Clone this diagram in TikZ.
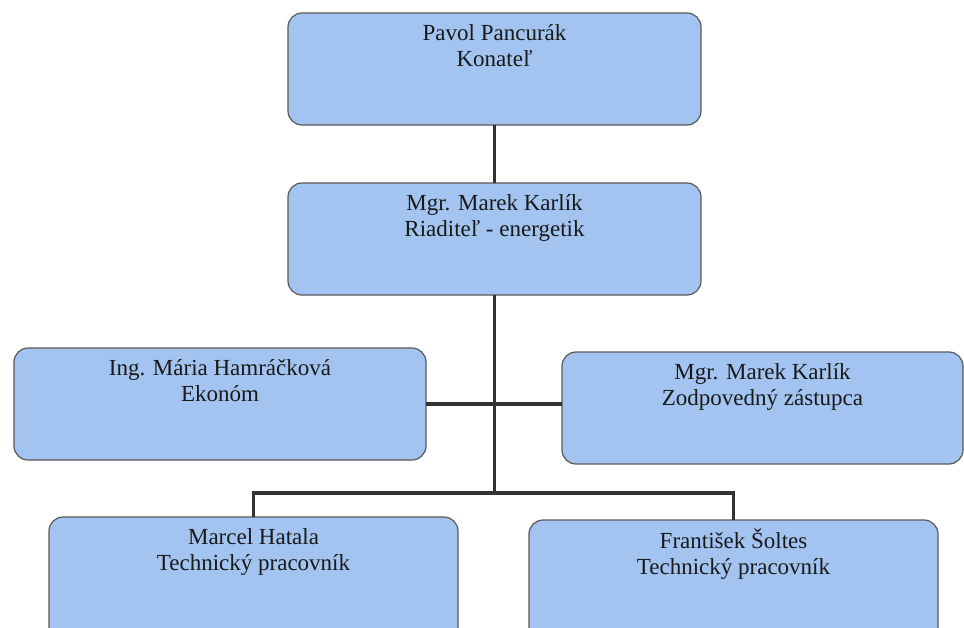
\documentclass[tikz,border=0pt]{standalone}
\usepackage{fontspec}
\setmainfont{Liberation Serif}
\newfontfamily\cardfont{Liberation Serif}
\usepackage{tikz}
\usetikzlibrary{positioning}

\definecolor{cardblue}{RGB}{163,196,240}
\newcommand{\cardtext}[3][94pt]{\parbox[t][#1][t]{380pt}{\centering\strut #2\\\strut #3}}

\begin{document}
\begin{tikzpicture}[x=1pt, y=-1pt,
    card/.style={draw=black!65, line width=1.2pt, fill=cardblue, rounded corners=14pt,
        anchor=north west, inner xsep=0pt, inner ysep=9pt, outer sep=0pt,
        font=\cardfont\fontsize{23}{26}\selectfont, text=black!90},
    link/.style={draw=black!80, line width=3.5pt}]
        \useasboundingbox[fill=white] (0,0) rectangle (964,627);

        \node (konatel) [card, minimum width=413pt] at (288,13) {\cardtext{Pavol Pancurák}{Konateľ}};
        \node (riaditel) [card, minimum width=413pt] at (288,183) {\cardtext{Mgr. Marek Karlík}{Riaditeľ - energetik}};
        \node (ekonom) [card, minimum width=412pt] at (14,348) {\cardtext{Ing. Mária Hamráčková}{Ekonóm}};
        \node (zastupca) [card, minimum width=401pt] at (562,352) {\cardtext{Mgr. Marek Karlík}{Zodpovedný zástupca}};
        \node (hatala) [card, minimum width=409pt] at (49,517) {\cardtext[122pt]{Marcel Hatala}{Technický pracovník}};
        \node (soltes) [card, minimum width=409pt] at (529,520) {\cardtext[122pt]{František Šoltes}{Technický pracovník}};

        \coordinate (split) at (riaditel.south |- 0,493);

        \draw[link] (konatel) -- (riaditel);
        \draw[link] (riaditel) -- (split);
        \draw[link] (ekonom.east) -- (ekonom.east -| zastupca.west);
        \draw[link] (hatala.north) |- (split) -| (soltes.north);
    \end{tikzpicture}
\end{document}
